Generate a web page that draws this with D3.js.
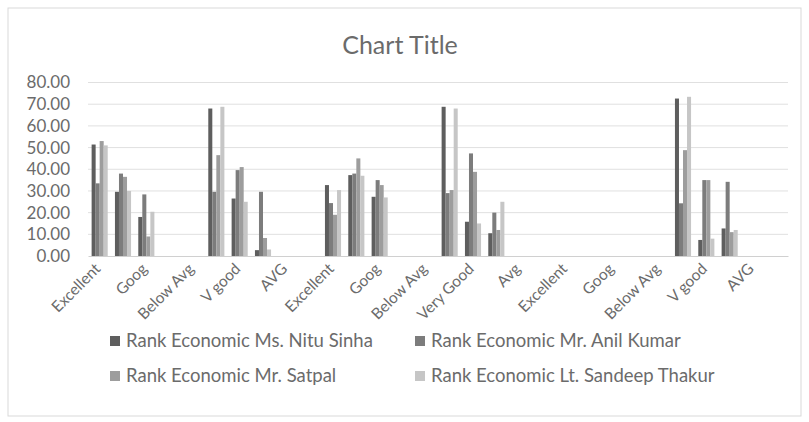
<!DOCTYPE html>
<html>
<head>
<meta charset="utf-8">
<script src="https://cdn.jsdelivr.net/npm/d3@7"></script>
<style>
  body { margin: 0; background: #fff; }
  text { font-family: Lato, "Open Sans", sans-serif; fill: #6b6b6b; }
</style>
</head>
<body>
<svg id="chart" width="809" height="422"></svg>
<script>
// 30 category slots, Excel only shows every second label
var tickLabels = ["Excellent", "Goog", "Below Avg", "V good", "AVG",
                  "Excellent", "Goog", "Below Avg", "Very Good", "Avg",
                  "Excellent", "Goog", "Below Avg", "V good", "AVG"];

var seriesNames = ["Rank Economic Ms. Nitu Sinha", "Rank Economic Mr. Anil Kumar",
                   "Rank Economic Mr. Satpal", "Rank Economic Lt. Sandeep Thakur"];

var nituSinha = [51.4, 29.6, 18, 0, 0, 68, 26.5, 2.7, 0, 0, 32.7, 37.3, 27.3, 0, 0,
                 68.8, 15.8, 10.5, 0, 0, 0, 0, 0, 0, 0, 72.6, 7.4, 12.7, 0, 0];
var anilKumar = [33.5, 38, 28.4, 0, 0, 29.6, 39.6, 29.6, 0, 0, 24.4, 38, 35, 0, 0,
                 29, 47.3, 20, 0, 0, 0, 0, 0, 0, 0, 24.3, 35, 34.2, 0, 0];
var satpal    = [53, 36.5, 9, 0, 0, 46.5, 41, 8.3, 0, 0, 19, 45, 32.7, 0, 0,
                 30.4, 38.8, 12, 0, 0, 0, 0, 0, 0, 0, 48.8, 35, 11, 0, 0];
var sandeep   = [51, 30, 20.4, 0, 0, 68.8, 25, 3, 0, 0, 30.4, 37, 27, 0, 0,
                 68, 15, 25, 0, 0, 0, 0, 0, 0, 0, 73.4, 8, 12, 0, 0];

var yTicks = [0, 10, 20, 30, 40, 50, 60, 70, 80];

var allSeries = [nituSinha, anilKumar, satpal, sandeep];
var colors = ["#5e5e5e", "#7c7c7c", "#9d9d9d", "#c6c6c6"];

var svg = d3.select("#chart");

// chart frame
svg.append("rect")
  .attr("x", 8).attr("y", 8).attr("width", 793).attr("height", 408)
  .attr("fill", "#fff").attr("stroke", "#d9d9d9");

var slots = d3.range(nituSinha.length);

var x = d3.scaleBand()
  .domain(slots)
  .range([88, 788])
  .paddingInner(0.31)
  .paddingOuter(0.155);

var x1 = d3.scaleBand()
  .domain(d3.range(allSeries.length))
  .range([0, x.bandwidth()]);

var y = d3.scaleLinear().domain([0, 80]).range([256, 82.5]);

// gridlines
svg.append("g")
  .selectAll("line")
  .data(yTicks.slice(1))
  .enter()
  .append("line")
  .attr("x1", 88).attr("x2", 788)
  .attr("y1", function(d) { return y(d); })
  .attr("y2", function(d) { return y(d); })
  .attr("stroke", "#e0e0e0");

// y axis labels
var yAxis = d3.axisLeft(y)
  .tickValues(yTicks)
  .tickFormat(d3.format(".2f"))
  .tickSize(0)
  .tickPadding(18);
var yg = svg.append("g").attr("transform", "translate(88,0)").call(yAxis);
yg.select(".domain").remove();
yg.selectAll("text").style("font-size", "17px").attr("fill", "#6b6b6b");

// bars
var groups = svg.append("g")
  .selectAll("g")
  .data(slots)
  .enter()
  .append("g")
  .attr("transform", function(d) { return "translate(" + x(d) + ",0)"; });

groups.selectAll("rect")
  .data(function(i) {
    return allSeries.map(function(s, k) { return { k: k, v: s[i] }; });
  })
  .enter()
  .append("rect")
  .attr("x", function(d) { return x1(d.k); })
  .attr("width", x1.bandwidth())
  .attr("y", function(d) { return y(d.v); })
  .attr("height", function(d) { return y(0) - y(d.v); })
  .attr("fill", function(d) { return colors[d.k]; });

// x axis
var xAxis = d3.axisBottom(x)
  .tickValues(slots.filter(function(i) { return i % 2 == 0; }))
  .tickFormat(function(i) { return tickLabels[i / 2]; })
  .tickSize(0)
  .tickPadding(0);
var xg = svg.append("g").attr("transform", "translate(0,256)").call(xAxis);
xg.select(".domain").attr("stroke", "#d0d0d0");
xg.selectAll("text")
  .style("font-size", "15.5px")
  .attr("fill", "#6b6b6b")
  .attr("text-anchor", "end")
  .attr("dy", "0.35em")
  .attr("transform", "translate(-2,10) rotate(-45)");

// title
svg.append("text")
  .attr("x", 400).attr("y", 54)
  .attr("text-anchor", "middle")
  .style("font-size", "25px")
  .text("Chart Title");

// legend
var legendPos = [[110, 341], [415, 341], [110, 376], [415, 376]];
var legend = svg.append("g")
  .selectAll("g")
  .data(seriesNames)
  .enter()
  .append("g")
  .attr("transform", function(d, i) { return "translate(" + legendPos[i][0] + "," + legendPos[i][1] + ")"; });

legend.append("rect")
  .attr("x", 0).attr("y", -5).attr("width", 10).attr("height", 10)
  .attr("fill", function(d, i) { return colors[i]; });

legend.append("text")
  .attr("x", 16).attr("dy", "0.35em")
  .style("font-size", "18.5px")
  .text(function(d) { return d; });
</script>
</body>
</html>
